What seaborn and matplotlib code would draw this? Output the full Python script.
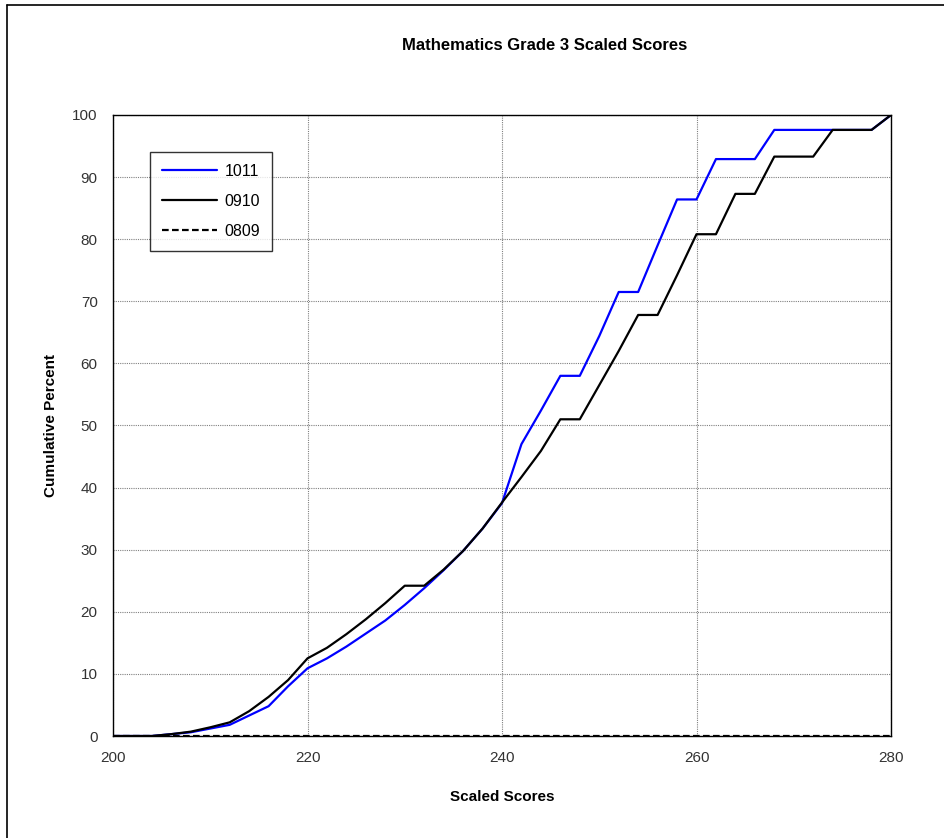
import matplotlib

matplotlib.use("Agg")
import matplotlib.pyplot as plt
from matplotlib.lines import Line2D
import pandas as pd
import seaborn as sns

# --- Data ---
SCORES = list(range(200, 281, 2))

PCT_1011 = [0, 0, 0, 0.3, 0.6, 1.2, 1.8, 3.3, 4.8, 8.0, 10.9,
            12.5, 14.4, 16.5, 18.6, 21.1, 23.8, 26.7, 29.8, 33.4, 37.5,
            47.0, 52.4, 58.0, 58.0, 64.4, 71.5, 71.5, 79.0, 86.4, 86.4,
            92.9, 92.9, 92.9, 97.6, 97.6, 97.6, 97.6, 97.6, 97.6, 100]
PCT_0910 = [0, 0, 0, 0.3, 0.7, 1.4, 2.2, 4.0, 6.3, 9.0, 12.5,
            14.2, 16.4, 18.8, 21.4, 24.2, 24.2, 26.8, 29.8, 33.4, 37.6,
            41.7, 45.9, 51.0, 51.0, 56.5, 62.0, 67.8, 67.8, 74.2, 80.8,
            80.8, 87.3, 87.3, 93.3, 93.3, 93.3, 97.6, 97.6, 97.6, 100]
PCT_0809 = [0] * len(SCORES)

SERIES = ["1011", "0910", "0809"]
COLORS = {"1011": "#0000FF", "0910": "#000000", "0809": "#000000"}
DASHES = {"1011": "", "0910": "", "0809": (3, 1.5)}

df = pd.concat([
    pd.DataFrame({"score": SCORES, "pct": PCT_1011, "year": "1011"}),
    pd.DataFrame({"score": SCORES, "pct": PCT_0910, "year": "0910"}),
    pd.DataFrame({"score": SCORES, "pct": PCT_0809, "year": "0809"}),
])

sns.set_style("white")
plt.rcParams["font.family"] = ["Liberation Sans", "DejaVu Sans"]
plt.rcParams["text.color"] = "black"
plt.rcParams["axes.labelcolor"] = "black"

fig = plt.figure(figsize=(9.45, 8.38), dpi=100)
# outer chart-area frame: only the top and left edges show in the reference
fig.add_artist(Line2D([7 / 945, 1], [1 - 5 / 838, 1 - 5 / 838], color="black",
                      linewidth=1.2, transform=fig.transFigure))
fig.add_artist(Line2D([7 / 945, 7 / 945], [0, 1 - 5 / 838], color="black",
                      linewidth=1.2, transform=fig.transFigure))

ax = fig.add_axes([113 / 945, 1 - 736 / 838, 778 / 945, 621 / 838])

sns.lineplot(data=df, x="score", y="pct", hue="year", style="year",
             hue_order=SERIES, style_order=SERIES, palette=COLORS,
             dashes=DASHES, linewidth=1.6, ax=ax)

ax.set_xlim(200, 280)
ax.set_ylim(0, 100)
ax.set_xticks(range(200, 281, 20))
ax.set_yticks(range(0, 101, 10))
ax.grid(True, color="#808080", linestyle=(0, (1, 1)), linewidth=0.8)
for side in ax.spines.values():
    side.set_color("black")
    side.set_linewidth(1.0)
ax.tick_params(axis="both", direction="out", length=5, color="black",
               labelsize=11, labelcolor="#333333", pad=6)

ax.set_xlabel("Scaled Scores", fontsize=11, fontweight="bold", labelpad=18)
ax.set_ylabel("Cumulative Percent", fontsize=11, fontweight="bold", labelpad=10)

fig.text(545 / 945, 1 - 45 / 838, "Mathematics Grade 3 Scaled Scores",
         ha="center", va="center", fontsize=12, fontweight="bold")

leg = ax.legend(loc="upper left", bbox_to_anchor=(0.047, 0.941), title=None,
                frameon=True, fancybox=False, fontsize=11.5, handlelength=3.5,
                borderpad=0.75, labelspacing=0.95, handletextpad=0.45,
                borderaxespad=0)
leg.get_frame().set_edgecolor("black")
leg.get_frame().set_linewidth(1.0)

fig.savefig("out.png", dpi=100)
